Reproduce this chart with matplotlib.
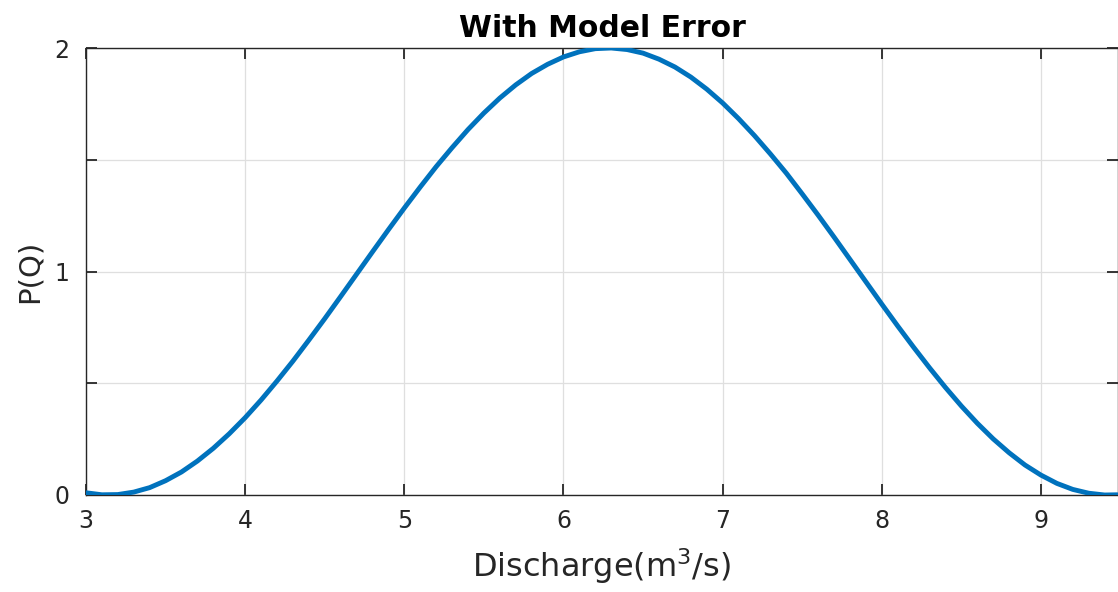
import matplotlib
matplotlib.use("Agg")
import matplotlib.pyplot as plt

discharge = [3.0, 3.1, 3.2, 3.3, 3.4, 3.5, 3.6, 3.7, 3.8, 3.9,
             4.0, 4.1, 4.2, 4.3, 4.4, 4.5, 4.6, 4.7, 4.8, 4.9,
             5.0, 5.1, 5.2, 5.3, 5.4, 5.5, 5.6, 5.7, 5.8, 5.9,
             6.0, 6.1, 6.2, 6.3, 6.4, 6.5, 6.6, 6.7, 6.8, 6.9,
             7.0, 7.1, 7.2, 7.3, 7.4, 7.5, 7.6, 7.7, 7.8, 7.9,
             8.0, 8.1, 8.2, 8.3, 8.4, 8.5, 8.6, 8.7, 8.8, 8.9,
             9.0, 9.1, 9.2, 9.3, 9.4, 9.48]
p_q = [0.010, 0.001, 0.002, 0.013, 0.033, 0.064, 0.103, 0.152, 0.209, 0.274,
       0.346, 0.425, 0.510, 0.599, 0.693, 0.789, 0.888, 0.988, 1.088, 1.187,
       1.284, 1.378, 1.469, 1.554, 1.635, 1.709, 1.776, 1.835, 1.886, 1.927,
       1.960, 1.983, 1.997, 2.000, 1.993, 1.977, 1.950, 1.915, 1.870, 1.816,
       1.754, 1.684, 1.608, 1.526, 1.440, 1.347, 1.252, 1.154, 1.054, 0.954,
       0.854, 0.756, 0.661, 0.569, 0.481, 0.398, 0.321, 0.251, 0.189, 0.134,
       0.089, 0.052, 0.025, 0.008, 0.000, 0.001]
x_ticks = [3, 4, 5, 6, 7, 8, 9]
y_ticks = [0, 0.5, 1, 1.5, 2]
y_labels = ["0", "", "1", "", "2"]

plt.rcParams['font.family'] = ['DejaVu Sans']

W, H = 1118, 592
fig = plt.figure(figsize=(W / 100, H / 100), dpi=100)
ax = fig.add_axes([86 / W, (H - 495) / H, 1032 / W, 447 / H])

ax.plot(discharge, p_q, color='#0072BD', lw=3.5, solid_capstyle='round',
        solid_joinstyle='round', zorder=3)
ax.set_xlim(3, 9.484)
ax.set_ylim(0, 2)
ax.set_xticks(x_ticks)
ax.set_yticks(y_ticks)
ax.set_yticklabels(y_labels)
ax.grid(True, color='#dfdfdf', lw=0.9)
ax.set_axisbelow(True)
ax.tick_params(direction='in', length=8, width=1.3, colors='#262626',
               labelsize=17, top=True, right=True)
ax.tick_params(axis='x', pad=10)
ax.tick_params(axis='y', pad=12)
for s in ax.spines.values():
    s.set_color('#262626')
    s.set_linewidth(1.0)

ax.set_xlabel('Discharge(m$^3$/s)', fontsize=23, color='#262626', labelpad=10)
ax.set_ylabel('P(Q)', fontsize=21, color='#262626', labelpad=8)
ax.set_title('With Model Error', fontsize=21.5, fontweight='bold', color='black', pad=8)

fig.savefig('out.png', dpi=100)
